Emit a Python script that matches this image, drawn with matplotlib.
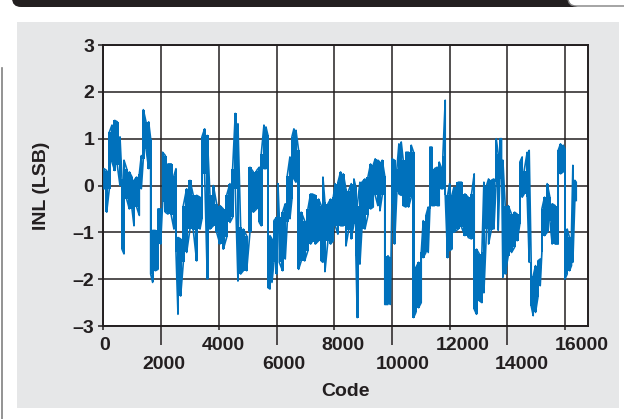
import matplotlib.pyplot as plt
import numpy as np
from matplotlib.patches import Rectangle, FancyBboxPatch
from matplotlib.lines import Line2D
from matplotlib.transforms import ScaledTranslation

plt.rcParams['font.family'] = ['Liberation Sans', 'DejaVu Sans']
plt.rcParams['font.weight'] = 'bold'

# INL envelope: code, lowest and highest value per column
codes = [24, 117, 209, 301, 394, 486, 578, 648, 717, 809, 902, 994, 1063, 1155,
         1248, 1317, 1386, 1479, 1571, 1640, 1709, 1802, 1894, 1986, 2056, 2148,
         2240, 2356, 2448, 2518, 2587, 2679, 2772, 2887, 3002, 3118, 3233, 3349,
         3418, 3510, 3602, 3695, 3810, 3926, 4041, 4156, 4272, 4387, 4480, 4572,
         4664, 4757, 4849, 4965, 5080, 5196, 5311, 5403, 5473, 5565, 5634, 5703,
         5773, 5842, 5911, 6003, 6050, 6096, 6211, 6303, 6373, 6465, 6534, 6603,
         6673, 6765, 6857, 6973, 7088, 7180, 7227, 7343, 7458, 7550, 7608, 7677,
         7781, 7873, 7966, 8035, 8127, 8220, 8312, 8404, 8497, 8589, 8681, 8750,
         8797, 8889, 8958, 9062, 9166, 9258, 9351, 9420, 9512, 9581, 9662, 9750,
         9859, 9940, 9997, 10090, 10170, 10240, 10320, 10390, 10482, 10574, 10667,
         10748, 10828, 10921, 11013, 11082, 11175, 11255, 11313, 11382, 11474,
         11567, 11636, 11705, 11763, 11844, 11925, 11994, 12075, 12144, 12295,
         12410, 12525, 12641, 12756, 12848, 12929, 13022, 13114, 13183, 13275,
         13345, 13437, 13529, 13610, 13679, 13737, 13795, 13841, 13922, 14026,
         14141, 14245, 14337, 14429, 14510, 14579, 14684, 14753, 14822, 14892,
         14972, 15053, 15134, 15192, 15284, 15376, 15469, 15549, 15653, 15757,
         15838, 15930, 15988, 16069, 16150, 16219, 16265, 16334, 16383]
inl_lo = [-0.07, -0.57, -0.07, 0.5, 0.32, 0.43, 0.0, -1.36, -1.46, -0.29, -0.5,
          -0.5, -0.86, -0.46, -0.64, -0.07, 0.57, 0.79, 0.36, -1.89, -2.07, -1.82,
          -1.79, -1.25, -0.36, -0.57, -0.61, -0.64, -0.93, -1.43, -2.75, -2.36,
          -1.64, -1.43, -0.93, -0.96, -1.61, -0.93, -0.71, 0.25, -2.0, -0.93,
          -0.86, -1.0, -1.25, -1.36, -1.11, -0.79, -0.68, -0.07, -2.04, -1.89,
          -1.82, -1.82, -1.0, -0.57, -0.5, -0.79, -0.86, 0.36, 0.36, -2.18, -2.21,
          -2.07, -1.64, -1.89, -0.7, -1.64, -1.82, -1.57, -0.79, -0.71, -0.29,
          0.14, 0.07, -1.79, -1.61, -1.61, -1.39, -1.25, -1.21, -1.25, -1.18,
          -1.61, -1.64, -1.84, -1.18, -1.25, -1.18, -0.86, -1.04, -0.86, -0.86,
          -1.29, -0.96, -1.14, -0.82, -1.5, -2.82, -1.68, -0.93, -0.93, -0.64,
          -0.5, -0.46, -0.21, -0.43, -0.54, -0.21, -2.54, -2.54, -2.54, -0.39,
          -1.25, -0.14, -0.18, -0.21, -0.43, -0.46, -0.46, -0.25, -2.82, -2.71,
          -2.61, -2.5, -1.54, -1.43, -1.43, -0.5, -0.43, -0.43, -0.43, -0.43,
          -0.07, -0.07, -0.21, -1.54, -1.39, -1.36, -1.0, -0.93, -0.89, -1.07,
          -1.11, -1.14, -2.64, -2.75, -2.46, -2.5, -2.29, -0.93, -1.25, -0.96,
          -0.93, 0.07, -0.96, 0.14, 0.54, -1.96, -1.89, -1.5, -1.43, -1.32, -1.18,
          -0.82, -0.25, -0.18, -0.25, -1.64, -2.57, -2.78, -2.71, -2.39, -2.14,
          -1.43, -1.07, -1.0, -0.75, -1.25, -1.25, -1.25, 0.25, 0.29, -2.0, -1.89,
          -1.82, -1.71, -1.64, -0.32, -0.32]
inl_hi = [0.36, 0.32, 1.14, 1.29, 1.39, 1.36, 1.04, 0.14, 0.54, 0.36, 0.29, 0.18,
          0.11, 0.18, 0.25, 0.64, 1.62, 1.36, 1.36, 1.0, -0.96, -0.96, -0.5, -0.5,
          0.71, 0.64, 0.46, 0.46, 0.21, 0.36, -1.11, -1.14, -0.43, -0.07, 0.11,
          -0.21, -0.21, -0.25, 1.04, 1.21, 1.07, -0.21, 0.0, -0.39, -0.43, -0.5,
          -0.21, 0.04, 0.36, 1.54, 1.32, -0.89, -0.93, -1.07, 0.39, 0.29, 0.32,
          0.39, 0.68, 1.29, 1.25, 1.07, -1.07, -1.14, -0.75, -0.68, 0.04, -0.68,
          -0.57, -0.39, 0.21, 0.61, 1.04, 1.21, 1.18, 0.75, -0.57, -0.75, -0.5,
          -0.18, -0.18, -0.21, -0.29, -0.43, 0.18, -0.36, -0.39, -0.29, -0.25,
          0.04, 0.07, 0.29, 0.25, -0.07, -0.11, 0.04, 0.14, -0.04, -0.43, 0.07,
          0.07, 0.14, 0.18, 0.46, 0.44, 0.57, 0.54, 0.5, 0.54, 0.2, -1.5, -1.57,
          0.57, 0.54, 0.36, 0.89, 0.93, 0.54, 0.71, 0.71, 0.86, 0.71, -1.75,
          -1.64, -1.43, -0.75, -0.64, -0.46, 0.82, 0.82, 0.36, 0.39, 0.5, 0.39,
          0.64, 1.82, -0.21, 0.04, -0.21, -0.04, 0.07, 0.07, -0.18, -0.25, -0.18,
          0.25, -1.36, -1.46, -1.43, 0.07, 0.0, 0.14, 0.11, 0.14, 1.0, 0.68, 1.0,
          1.0, 0.54, -0.43, -0.43, -0.61, -0.57, -0.61, 0.5, 0.61, 0.32, 0.71,
          0.75, -1.64, -1.93, -1.71, -1.61, -1.57, -0.5, -0.25, 0.04, -0.25,
          -0.39, -0.43, 0.75, 0.89, 0.86, 0.79, -0.93, -1.11, -0.96, 0.43, 0.11,
          0.07]

x_major = [0, 4000, 8000, 12000, 16000]
x_minor = [2000, 6000, 10000, 14000]
y_ticks = [-3, -2, -1, 0, 1, 2, 3]
y_labels = ['\u20133', '\u20132', '\u20131', '0', '1', '2', '3']

# zigzag through each column: low->high, then high->low
codes = np.array(codes)
env = np.column_stack([inl_lo, inl_hi])
env[1::2] = env[1::2, ::-1]
xs = np.repeat(codes, 2)
ys = env.ravel()

W, H = 624, 419
fig = plt.figure(figsize=(W / 100, H / 100), dpi=100)

# page decoration (pixel coordinates)
bg = fig.add_axes([0, 0, 1, 1])
bg.set_xlim(0, W)
bg.set_ylim(H, 0)
bg.axis('off')
bg.add_patch(Rectangle((17, 22), 602, 386, facecolor='#E6E7E8', edgecolor='none'))
bg.add_patch(FancyBboxPatch((12, -20), 570, 27, boxstyle='round,pad=0,rounding_size=9',
                            facecolor='#231F20', edgecolor='none'))
bg.add_patch(FancyBboxPatch((568, -20), 70, 26, boxstyle='round,pad=0,rounding_size=8',
                            facecolor='white', edgecolor='#808080', linewidth=1))
bg.add_line(Line2D([2, 2], [68, 419], color='#808080', linewidth=1.2))

ax = fig.add_axes([103.3 / W, 1 - 326 / H, 485 / W, 281 / H])
ax.set_facecolor('white')
blue = '#0071BC'
ax.fill_between(codes, inl_lo, inl_hi, step='mid', color=blue, linewidth=0, zorder=3)
ax.plot(xs, ys, color=blue, linewidth=1.2, zorder=3)

ax.set_xlim(0, 16800)
ax.set_ylim(-3, 3)
ax.set_yticks(y_ticks, y_labels)
ax.set_xticks(x_major, [str(v) for v in x_major])
ax.set_xticks(x_minor, [str(v) for v in x_minor], minor=True)
ax.grid(True, which='both', axis='x', color='#231F20', linewidth=1.1)
ax.grid(True, which='major', axis='y', color='#231F20', linewidth=1.1)
ax.set_axisbelow(True)
for s in ax.spines.values():
    s.set_color('#231F20')
    s.set_linewidth(1.4)

ax.tick_params(axis='y', which='major', length=3.5, width=1.1, color='#231F20',
               labelsize=14, pad=3, labelcolor='#231F20')
ax.tick_params(axis='x', which='major', length=3, width=1.1, color='#231F20',
               labelsize=14, pad=5, labelcolor='#231F20')
ax.tick_params(axis='x', which='minor', length=13.5, width=1.1, color='#231F20',
               labelsize=14, pad=8, labelcolor='#231F20')

# x labels in the source sit a little right of their gridlines, more so to the right
for tick, v in zip(ax.xaxis.get_major_ticks() + ax.xaxis.get_minor_ticks(),
                   x_major + x_minor):
    dx = (1 + v * 0.00097) / 100
    tick.label1.set_transform(tick.label1.get_transform() +
                              ScaledTranslation(dx, 0, fig.dpi_scale_trans))

ax.set_xlabel('Code', fontsize=14, fontweight='bold', color='#231F20', labelpad=7)
ax.set_ylabel('INL (LSB)', fontsize=14, fontweight='bold', color='#231F20', labelpad=16)

fig.savefig('out.png', dpi=100)
